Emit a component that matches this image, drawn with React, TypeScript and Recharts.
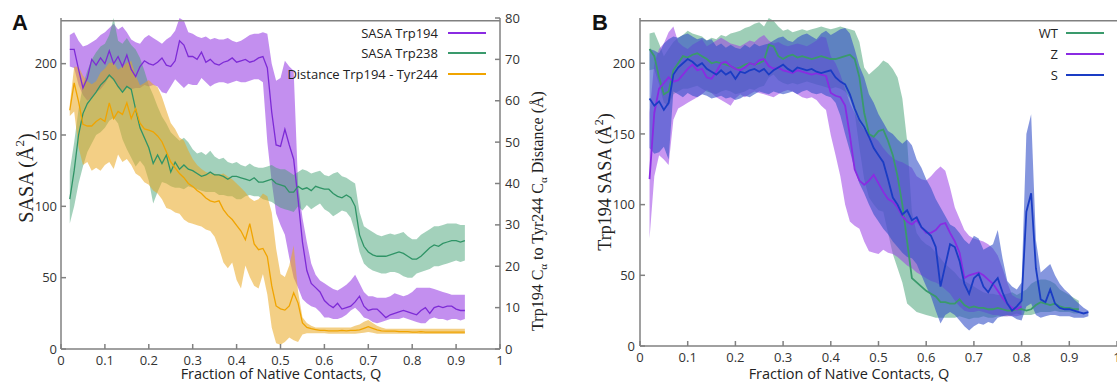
import { ComposedChart, Line, Area, XAxis, YAxis, ReferenceLine } from "recharts";

// Fraction of native contacts (x grid)
const Q_A = [
  0.02, 0.03, 0.04, 0.05, 0.06, 0.07, 0.08, 0.09, 0.1, 0.11,
  0.12, 0.13, 0.14, 0.15, 0.16, 0.17, 0.18, 0.19, 0.2, 0.21,
  0.22, 0.23, 0.24, 0.25, 0.26, 0.27, 0.28, 0.29, 0.3, 0.31,
  0.32, 0.33, 0.34, 0.35, 0.36, 0.37, 0.38, 0.39, 0.4, 0.41,
  0.42, 0.43, 0.44, 0.45, 0.46, 0.47, 0.48, 0.49, 0.5, 0.51,
  0.52, 0.53, 0.54, 0.55, 0.56, 0.57, 0.58, 0.59, 0.6, 0.61,
  0.62, 0.63, 0.64, 0.65, 0.66, 0.67, 0.68, 0.69, 0.7, 0.71,
  0.72, 0.73, 0.74, 0.75, 0.76, 0.77, 0.78, 0.79, 0.8, 0.81,
  0.82, 0.83, 0.84, 0.85, 0.86, 0.87, 0.88, 0.89, 0.9, 0.91,
  0.92,
];
const Q_B = [...Q_A, 0.93, 0.94];

const xTicks = [0, 0.1, 0.2, 0.3, 0.4, 0.5, 0.6, 0.7, 0.8, 0.9, 1];
const sasaTicks = [0, 50, 100, 150, 200];
const distTicks = [0, 10, 20, 30, 40, 50, 60, 70, 80];

// Panel A: SASA Trp194
const trp194Mean = [
  210, 210, 196, 183, 190, 203, 199, 204, 200, 209,
  200, 205, 198, 206, 196, 191, 198, 202, 200, 199,
  201, 204, 199, 198, 202, 216, 213, 205, 205, 203,
  208, 201, 203, 200, 199, 201, 202, 204, 201, 202,
  203, 201, 202, 204, 205, 197, 166, 143, 142, 154,
  143, 133, 105, 75, 55, 46, 43, 40, 34, 31,
  29, 32, 28, 29, 30, 33, 37, 30, 27, 28,
  28, 25, 22, 24, 25, 26, 27, 26, 25, 24,
  27, 29, 25, 29, 30, 29, 30, 30, 28, 27,
  27,
];
const trp194Lo = [
  198, 197, 185, 178, 174, 176, 180, 182, 186, 191,
  188, 183, 181, 184, 182, 183, 183, 185, 184, 185,
  184, 180, 179, 184, 189, 186, 183, 186, 185, 185,
  190, 187, 184, 186, 187, 187, 186, 187, 188, 187,
  187, 188, 189, 189, 187, 145, 117, 95, 87, 80,
  64, 50, 43, 35, 32, 30, 29, 26, 22, 22,
  21, 21, 22, 24, 27, 29, 26, 22, 21, 19,
  18, 19, 20, 21, 21, 21, 22, 21, 20, 19,
  18, 18, 21, 22, 21, 21, 20, 21, 21, 20,
  21,
];
const trp194Hi = [
  220, 222, 216, 212, 213, 215, 217, 220, 222, 225,
  228, 224, 226, 222, 217, 215, 214, 218, 220, 218,
  216, 214, 217, 219, 223, 232, 230, 222, 221, 219,
  218, 219, 217, 218, 217, 217, 218, 216, 215, 216,
  218, 220, 221, 221, 222, 221, 200, 188, 190, 202,
  198, 195, 115, 92, 75, 60, 52, 48, 46, 44,
  42, 41, 43, 45, 48, 52, 46, 40, 37, 37,
  36, 36, 36, 37, 39, 38, 37, 38, 40, 43,
  43, 43, 43, 42, 41, 40, 39, 38, 38, 38,
  38,
];

// Panel A: SASA Trp238
const trp238Mean = [
  105, 125, 150, 165, 172, 176, 180, 185, 188, 192,
  189, 184, 180, 184, 182, 168, 155, 148, 141, 130,
  136, 130, 136, 124, 131, 126, 129, 126, 125, 123,
  121, 122, 124, 122, 122, 121, 119, 121, 121, 120,
  119, 118, 120, 117, 117, 118, 119, 116, 115, 114,
  110, 110, 114, 112, 113, 111, 114, 113, 112, 112,
  109, 107, 106, 108, 106, 100, 80, 72, 68, 66,
  65, 65, 65, 66, 67, 68, 67, 65, 63, 63,
  65, 68, 71, 73, 72, 74, 75, 76, 76, 75,
  76,
];
const trp238Lo = [
  88, 100, 116, 128, 138, 144, 150, 152, 155, 160,
  162, 158, 147, 140, 134, 128, 132, 128, 118, 102,
  110, 117, 116, 114, 113, 113, 112, 114, 113, 112,
  111, 110, 110, 110, 108, 108, 107, 107, 105, 105,
  107, 108, 107, 107, 105, 104, 103, 101, 99, 98,
  97, 96, 100, 97, 101, 98, 100, 102, 98, 96,
  93, 95, 97, 96, 92, 82, 68, 60, 57, 55,
  54, 53, 53, 54, 54, 53, 51, 50, 50, 53,
  54, 55, 56, 58, 58, 59, 60, 61, 62, 61,
  62,
];
const trp238Hi = [
  125, 145, 168, 185, 195, 203, 208, 212, 214, 220,
  232, 216, 214, 218, 213, 210, 204, 195, 185, 178,
  170, 163, 158, 152, 149, 146, 148, 145, 140, 137,
  138, 136, 139, 135, 133, 134, 131, 130, 131, 129,
  128, 130, 128, 127, 127, 128, 129, 127, 126, 126,
  124, 122, 124, 126, 125, 123, 124, 125, 122, 121,
  123, 124, 121, 120, 118, 116, 96, 86, 84, 82,
  80, 79, 80, 81, 80, 81, 82, 79, 77, 77,
  80, 82, 84, 86, 86, 87, 88, 88, 88, 87,
  87,
];

// Panel A: distance Trp194 - Tyr244 (Å, right axis)
const distMean = [
  57.7, 64.3, 59.8, 54.3, 53.9, 53.9, 55.0, 55.7, 55.0, 59.5,
  55.7, 57.4, 56.7, 59.5, 55.7, 58.1, 54.6, 53.2, 52.9, 52.5,
  51.5, 50.1, 47.7, 45.2, 43.8, 42.4, 41.4, 40.0, 39.3, 38.3,
  37.6, 36.5, 35.8, 35.5, 35.8, 33.7, 32.3, 31.3, 29.9, 28.5,
  26.4, 30.3, 25.4, 24.0, 24.3, 22.3, 15.3, 10.4, 9.7, 9.4,
  10.4, 13.6, 11.1, 6.3, 5.2, 4.9, 4.7, 4.5, 4.5, 4.4,
  4.4, 4.4, 4.5, 4.4, 4.5, 4.5, 4.6, 5.0, 5.4, 5.0,
  4.6, 4.4, 4.3, 4.3, 4.3, 4.2, 4.2, 4.2, 4.1, 4.1,
  4.2, 4.1, 4.1, 4.1, 4.1, 4.1, 4.1, 4.1, 4.1, 4.1,
  4.1,
];
const distLo = [
  56.3, 57.4, 48.7, 44.5, 45.2, 43.1, 43.8, 43.1, 44.5, 45.2,
  43.5, 47.0, 45.2, 45.9, 44.5, 42.4, 41.7, 40.3, 39.7, 38.3,
  37.6, 36.2, 34.1, 33.7, 33.0, 32.7, 31.3, 30.6, 30.3, 29.9,
  29.6, 28.9, 28.5, 27.1, 24.3, 20.9, 19.5, 20.9, 16.7, 14.6,
  20.2, 17.4, 15.3, 14.6, 18.1, 13.2, 5.2, 1.4, 1.0, 1.7,
  2.8, 2.1, 1.7, 3.5, 3.8, 3.8, 3.8, 3.8, 3.8, 3.7,
  3.7, 3.7, 3.7, 3.7, 3.7, 3.7, 3.8, 3.9, 4.1, 3.9,
  3.7, 3.7, 3.7, 3.7, 3.7, 3.7, 3.7, 3.7, 3.7, 3.7,
  3.6, 3.6, 3.6, 3.6, 3.6, 3.6, 3.6, 3.6, 3.6, 3.6,
  3.6,
];
const distHi = [
  59.1, 68.2, 68.2, 66.1, 64.7, 64.0, 64.7, 66.8, 67.8, 69.2,
  69.2, 67.5, 68.2, 69.2, 69.6, 66.1, 63.7, 64.3, 65.0, 64.0,
  63.3, 60.9, 57.7, 54.6, 53.2, 51.1, 50.4, 48.0, 45.9, 44.5,
  43.5, 42.8, 42.4, 42.4, 42.1, 42.4, 41.7, 41.0, 40.0, 39.0,
  37.9, 36.5, 35.8, 36.2, 37.6, 36.9, 33.0, 24.3, 18.1, 17.4,
  20.2, 25.0, 13.9, 7.7, 6.3, 5.6, 5.2, 5.2, 5.2, 5.2,
  5.2, 5.2, 5.2, 5.2, 5.2, 5.6, 5.9, 6.6, 7.0, 6.3,
  5.6, 5.2, 4.9, 4.9, 4.9, 4.9, 4.9, 4.9, 4.9, 4.9,
  4.9, 4.9, 4.9, 4.9, 4.9, 4.9, 4.9, 4.9, 4.9, 4.9,
  4.9,
];

// Panel B: WT (0.02 - 0.92)
const wtMean = [
  210, 205, 190, 178, 180, 195, 200, 205, 204, 206,
  207, 205, 203, 200, 201, 200, 199, 198, 196, 197,
  199, 200, 199, 200, 202, 213, 212, 205, 203, 205,
  206, 204, 205, 204, 203, 204, 205, 204, 203, 203,
  204, 205, 206, 203, 190, 165, 150, 148, 152, 153,
  145, 135, 120, 100, 74, 48, 45, 42, 39, 37,
  35, 31, 31, 30, 30, 33, 29, 27, 28, 27,
  27, 26, 26, 27, 26, 25, 25, 26, 26, 25,
  26, 29, 31, 30, 29, 30, 28, 27, 27, 26,
  26,
];
const wtLo = [
  195, 196, 185, 172, 170, 178, 180, 182, 182, 183,
  184, 182, 180, 179, 178, 180, 181, 180, 178, 179,
  180, 182, 181, 183, 184, 190, 192, 188, 186, 185,
  186, 185, 186, 187, 186, 185, 184, 183, 182, 183,
  182, 180, 175, 165, 140, 118, 105, 100, 96, 95,
  80, 65, 55, 45, 30, 27, 24, 23, 22, 21,
  20, 20, 20, 20, 20, 21, 20, 19, 20, 20,
  21, 20, 20, 21, 21, 21, 22, 23, 22, 22,
  22, 23, 24, 24, 24, 25, 24, 24, 24, 23,
  23,
];
const wtHi = [
  221, 222, 214, 205, 210, 215, 218, 220, 223, 221,
  220, 219, 216, 218, 217, 220, 219, 221, 222, 223,
  225, 226, 228, 229, 226, 232, 230, 226, 223, 224,
  222, 223, 224, 223, 224, 225, 226, 225, 224, 225,
  226, 225, 224, 223, 215, 197, 192, 195, 198, 202,
  200, 196, 190, 175, 145, 95, 80, 75, 72, 70,
  66, 62, 58, 55, 52, 48, 46, 44, 42, 40,
  38, 37, 37, 36, 36, 37, 38, 36, 38, 40,
  44, 46, 47, 47, 46, 44, 40, 38, 36, 34,
  32,
];

// Panel B: Z (0.02 - 0.80)
const zMean = [
  118, 165, 182, 186, 190, 187, 188, 192, 196, 199,
  195, 196, 190, 189, 194, 200, 201, 198, 196, 195,
  197, 200, 199, 202, 203, 198, 196, 197, 195, 194,
  193, 195, 194, 193, 192, 193, 192, 191, 179, 177,
  176, 170, 149, 125, 117, 114, 117, 121, 115, 109,
  104, 102, 98, 92, 88, 86, 89, 84, 80, 80,
  82, 86, 87, 80, 74, 66, 48, 50, 51, 52,
  50, 47, 44, 39, 34, 30, 27, 26, 28,
];
const zLo = [
  76, 120, 135, 132, 128, 160, 168, 170, 172, 174,
  176, 178, 181, 179, 176, 174, 172, 170, 175, 178,
  176, 178, 180, 179, 178, 177, 176, 178, 180, 181,
  180, 178, 176, 175, 176, 174, 170, 167, 149, 135,
  120, 100, 88, 85, 83, 74, 67, 66, 65, 68,
  66, 65, 63, 60, 57, 55, 52, 50, 48, 46,
  45, 43, 40, 37, 32, 28, 25, 24, 24, 25,
  24, 23, 22, 22, 21, 21, 21, 21, 22,
];
const zHi = [
  165, 200, 210, 214, 222, 226, 215, 212, 210, 213,
  215, 217, 212, 214, 216, 218, 216, 214, 213, 212,
  214, 216, 215, 218, 220, 216, 214, 215, 213, 212,
  213, 214, 213, 212, 214, 216, 219, 218, 205, 200,
  192, 182, 172, 165, 158, 153, 150, 148, 145, 140,
  136, 133, 131, 130, 128, 126, 120, 118, 117, 120,
  124, 127, 124, 112, 98, 90, 82, 78, 76, 75,
  74, 72, 69, 64, 55, 45, 36, 34, 33,
];

// Panel B: S (0.02 - 0.94)
const sMean = [
  175, 170, 173, 167, 172, 192, 197, 200, 203, 201,
  198, 200, 196, 194, 192, 195, 192, 194, 189, 194,
  193, 195, 196, 194, 196, 192, 195, 197, 199, 196,
  194, 197, 196, 195, 196, 194, 193, 194, 195, 190,
  187, 185, 178, 168, 160, 155, 148, 140, 135, 130,
  118, 105, 100, 93, 96, 89, 91, 84, 81, 78,
  70, 42, 57, 72, 70, 60, 44, 37, 48, 51,
  42, 38, 44, 48, 38, 30, 25, 28, 32, 95,
  108, 55, 33, 31, 40, 30, 27, 26, 26, 25,
  24, 23, 24,
];
const sLo = [
  140, 136, 137, 141, 132, 180, 178, 176, 179, 177,
  176, 178, 177, 175, 176, 177, 175, 176, 174, 175,
  177, 176, 178, 180, 179, 178, 180, 179, 178, 179,
  180, 178, 180, 181, 179, 178, 179, 177, 176, 172,
  163, 150, 138, 125, 115, 108, 100, 93, 88, 83,
  79, 74, 70, 66, 63, 62, 58, 50, 42, 35,
  25, 16, 22, 24, 22, 18, 14, 11, 14, 16,
  15, 17, 16, 20, 21, 22, 21, 19, 18, 28,
  30, 22, 20, 21, 22, 22, 21, 21, 21, 20,
  20, 20, 21,
];
const sHi = [
  210, 209, 207, 214, 217, 219, 218, 220, 221, 219,
  217, 218, 216, 217, 212, 214, 211, 213, 211, 210,
  213, 211, 214, 212, 213, 214, 216, 218, 219, 216,
  215, 218, 220, 221, 219, 217, 221, 223, 220, 222,
  224, 225, 221, 210, 198, 190, 178, 172, 164, 158,
  152, 150, 146, 143, 146, 142, 132, 126, 118, 112,
  104, 98, 92, 86, 84, 80, 75, 72, 78, 76,
  68, 70, 72, 82, 62, 46, 42, 40, 45, 150,
  164, 75, 52, 55, 58, 50, 44, 40, 37, 33,
  30, 27, 25,
];

const band = (lo: number[], hi: number[], i: number) =>
  lo[i] != null && hi[i] != null ? [lo[i], hi[i]] : null;

const rowsA = Q_A.map((q, i) => ({
  q,
  p: trp194Mean[i],
  pBand: band(trp194Lo, trp194Hi, i),
  g: trp238Mean[i],
  gBand: band(trp238Lo, trp238Hi, i),
  d: distMean[i],
  dBand: band(distLo, distHi, i),
}));

const rowsB = Q_B.map((q, i) => ({
  q,
  wt: wtMean[i] ?? null,
  wtBand: band(wtLo, wtHi, i),
  z: zMean[i] ?? null,
  zBand: band(zLo, zHi, i),
  s: sMean[i] ?? null,
  sBand: band(sLo, sHi, i),
}));

const AXIS = "#808080";
const tickStyle = { fontSize: 13, fill: "#333", fontFamily: "Open Sans" };
const serif = "Liberation Serif";
const sans = "Open Sans";

function PanelA() {
  return (
    <ComposedChart
      width={560}
      height={382}
      data={rowsA}
      margin={{ top: 18, right: 10, left: 11, bottom: 8 }}
    >
      <XAxis
        dataKey="q"
        type="number"
        domain={[0, 1]}
        ticks={xTicks}
        interval={0}
        height={25}
        tick={tickStyle}
        tickSize={-5}
        tickMargin={12}
        stroke={AXIS}
        strokeWidth={1.5}
      />
      <YAxis
        yAxisId="sasa"
        domain={[0, 230]}
        ticks={sasaTicks}
        interval={0}
        width={50}
        tick={tickStyle}
        tickSize={-5}
        tickMargin={9}
        stroke={AXIS}
        strokeWidth={1.5}
      />
      <YAxis
        yAxisId="dist"
        orientation="right"
        domain={[0, 80]}
        ticks={distTicks}
        interval={0}
        width={50}
        tick={{ ...tickStyle, textAnchor: "start" }}
        tickSize={-5}
        tickMargin={10}
        stroke={AXIS}
        strokeWidth={1.5}
      />
      <ReferenceLine yAxisId="sasa" y={230} stroke={AXIS} strokeWidth={1.5} />
      <Area yAxisId="sasa" dataKey="pBand" stroke="none" fill="#9b45e4" fillOpacity={0.6} isAnimationActive={false} />
      <Line yAxisId="sasa" dataKey="p" stroke="#7d2bd6" strokeWidth={1.3} dot={false} isAnimationActive={false} />
      <Area yAxisId="sasa" dataKey="gBand" stroke="none" fill="#3e9e70" fillOpacity={0.48} isAnimationActive={false} />
      <Line yAxisId="sasa" dataKey="g" stroke="#2f9466" strokeWidth={1.3} dot={false} isAnimationActive={false} />
      <Area yAxisId="dist" dataKey="dBand" stroke="none" fill="#e9a820" fillOpacity={0.55} isAnimationActive={false} />
      <Line yAxisId="dist" dataKey="d" stroke="#f0a400" strokeWidth={1.3} dot={false} isAnimationActive={false} />
    </ComposedChart>
  );
}

function PanelB() {
  return (
    <ComposedChart
      width={557}
      height={382}
      data={rowsB}
      margin={{ top: 18, right: 0, left: 30, bottom: 11 }}
    >
      <XAxis
        dataKey="q"
        type="number"
        domain={[0, 1]}
        ticks={xTicks}
        interval={0}
        height={25}
        tick={tickStyle}
        tickSize={-5}
        tickMargin={12}
        stroke={AXIS}
        strokeWidth={1.5}
      />
      <YAxis
        yAxisId="sasa"
        domain={[0, 230]}
        ticks={sasaTicks}
        interval={0}
        width={50}
        tick={tickStyle}
        tickSize={-5}
        tickMargin={10}
        stroke={AXIS}
        strokeWidth={1.5}
      />
      <ReferenceLine yAxisId="sasa" y={230} stroke={AXIS} strokeWidth={1.5} />
      <Area yAxisId="sasa" dataKey="wtBand" stroke="none" fill="#3e9e70" fillOpacity={0.5} isAnimationActive={false} />
      <Line yAxisId="sasa" dataKey="wt" stroke="#3a9a6c" strokeWidth={1.8} dot={false} isAnimationActive={false} />
      <Area yAxisId="sasa" dataKey="zBand" stroke="none" fill="#9a40e6" fillOpacity={0.55} isAnimationActive={false} />
      <Line yAxisId="sasa" dataKey="z" stroke="#8a2be2" strokeWidth={1.8} dot={false} isAnimationActive={false} />
      <Area yAxisId="sasa" dataKey="sBand" stroke="none" fill="#3450c8" fillOpacity={0.6} isAnimationActive={false} />
      <Line yAxisId="sasa" dataKey="s" stroke="#1a3cc4" strokeWidth={1.8} dot={false} isAnimationActive={false} />
    </ComposedChart>
  );
}

function Overlay() {
  const legA = [
    { name: "SASA Trp194", color: "#8a2be2", y: 33 },
    { name: "SASA Trp238", color: "#3a9a6c", y: 53 },
    { name: "Distance Trp194 - Tyr244", color: "#f0a400", y: 74 },
  ];
  const legB = [
    { name: "WT", color: "#3a9a6c", y: 33 },
    { name: "Z", color: "#8a2be2", y: 54 },
    { name: "S", color: "#1a3cc4", y: 75 },
  ];
  return (
    <svg width={1117} height={382} style={{ position: "absolute", left: 0, top: 0, pointerEvents: "none" }}>
      <text x={12} y={30} fontSize={22} fontWeight="bold" fontFamily="Liberation Sans" fill="#111">A</text>
      <text x={592} y={30} fontSize={22} fontWeight="bold" fontFamily="Liberation Sans" fill="#111">B</text>

      {legA.map((l) => (
        <g key={l.name}>
          <text x={438} y={l.y + 4.5} textAnchor="end" fontSize={13} fontFamily={sans} fill="#222">{l.name}</text>
          <line x1={448} x2={486} y1={l.y} y2={l.y} stroke={l.color} strokeWidth={2} />
        </g>
      ))}
      {legB.map((l) => (
        <g key={l.name}>
          <text x={1058} y={l.y + 4.5} textAnchor="end" fontSize={13} fontFamily={sans} fill="#222">{l.name}</text>
          <line x1={1066} x2={1104} y1={l.y} y2={l.y} stroke={l.color} strokeWidth={2} />
        </g>
      ))}

      <text x={281} y={379} textAnchor="middle" fontSize={14.5} fontFamily={sans} fill="#222">
        Fraction of Native Contacts, Q
      </text>
      <text x={849} y={379} textAnchor="middle" fontSize={14.5} fontFamily={sans} fill="#222">
        Fraction of Native Contacts, Q
      </text>

      <text transform="translate(33,178) rotate(-90)" textAnchor="middle" fontSize={20} fontFamily={serif} fill="#222">
        SASA (Å<tspan fontSize={13} dy={-9}>2</tspan><tspan dy={9}>)</tspan>
      </text>
      <text transform="translate(543,211) rotate(-90)" textAnchor="middle" fontSize={16} fontFamily={serif} fill="#222">
        Trp194 C<tspan fontSize={11} dy={4}>α</tspan>
        <tspan dy={-4}> to Tyr244 C</tspan>
        <tspan fontSize={11} dy={4}>α</tspan>
        <tspan dy={-4}> Distance (Å)</tspan>
      </text>
      <text transform="translate(611,182) rotate(-90)" textAnchor="middle" fontSize={18} fontFamily={serif} fill="#222">
        Trp194 SASA (Å<tspan fontSize={12} dy={-8}>2</tspan><tspan dy={8}>)</tspan>
      </text>
    </svg>
  );
}

export default function App() {
  return (
    <div style={{ position: "absolute", left: 0, top: 0, width: 1117, height: 382, background: "#fff", overflow: "hidden" }}>
      <div style={{ position: "absolute", left: 0, top: 0 }}>
        <PanelA />
      </div>
      <div style={{ position: "absolute", left: 560, top: 0 }}>
        <PanelB />
      </div>
      <Overlay />
    </div>
  );
}
